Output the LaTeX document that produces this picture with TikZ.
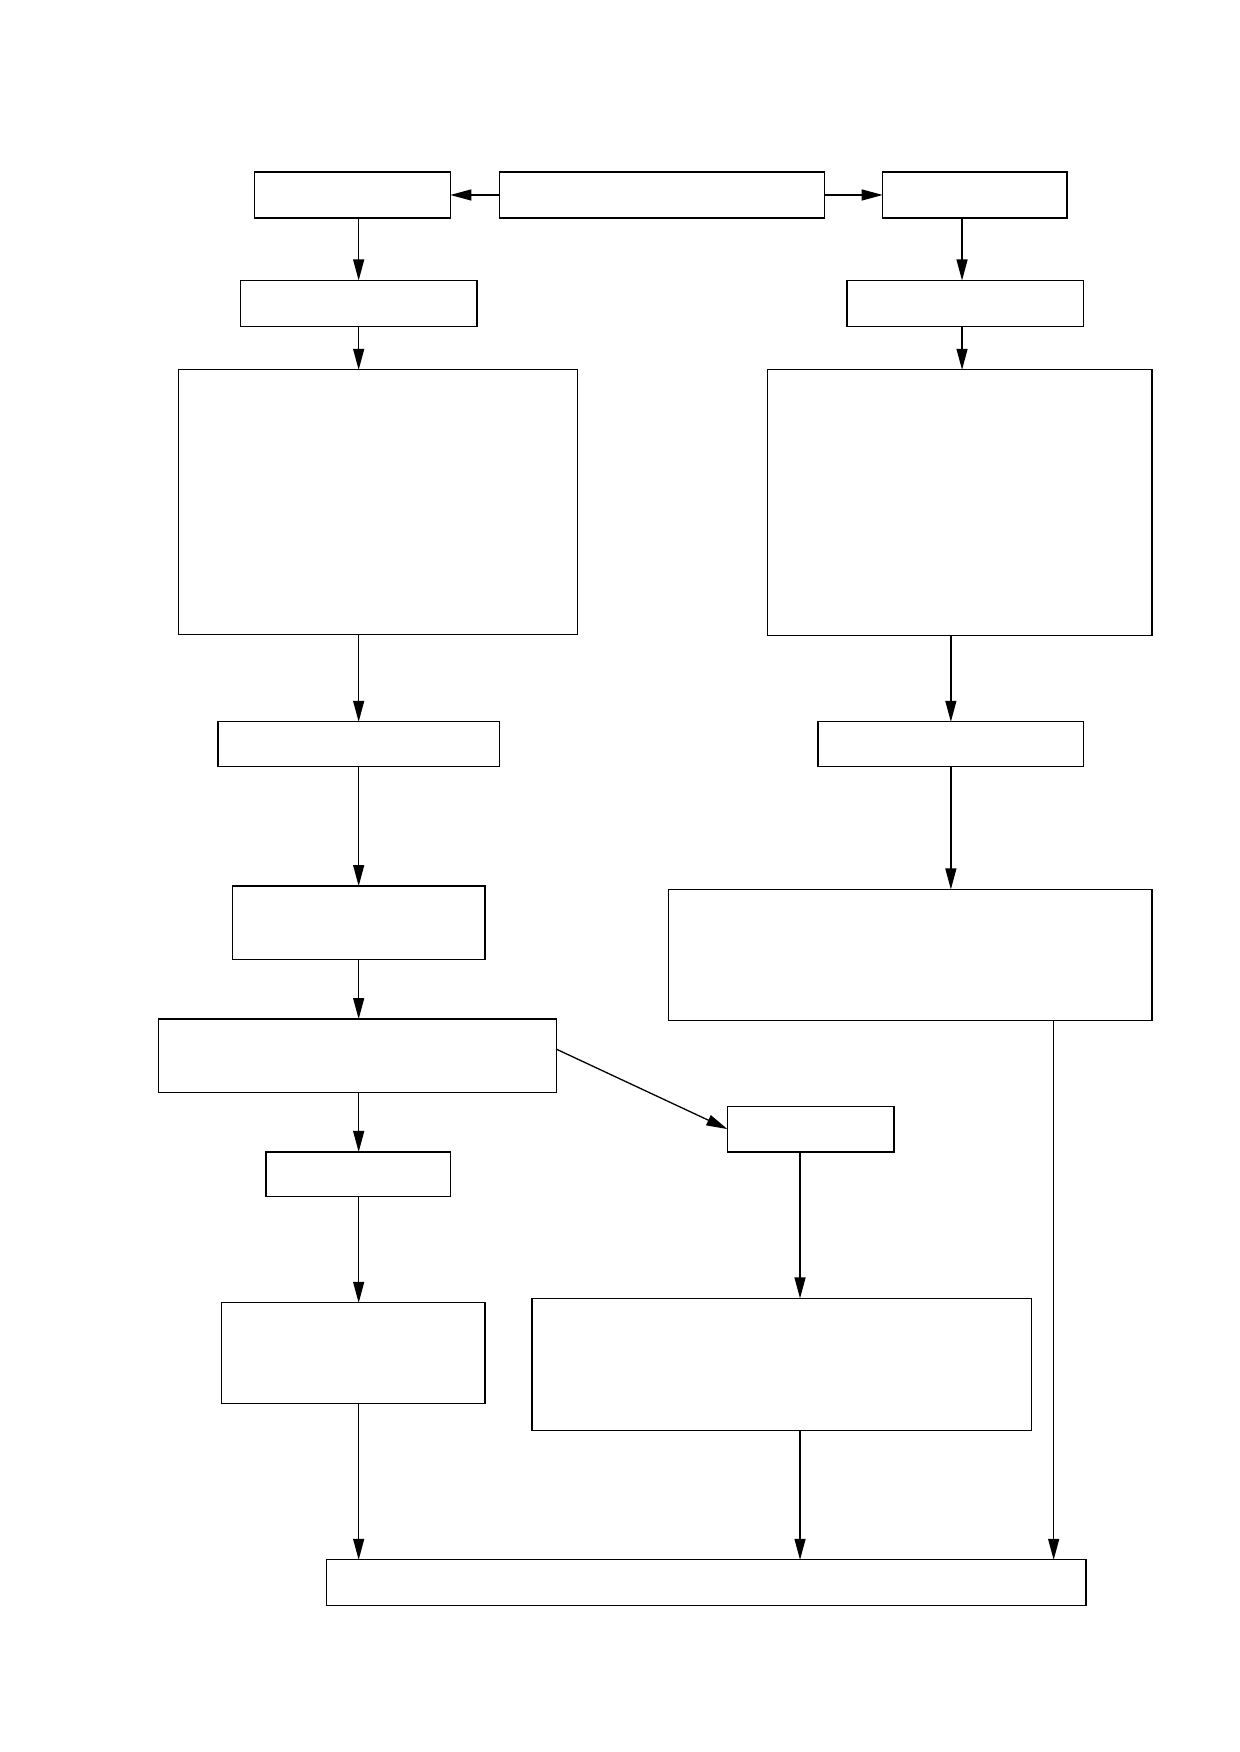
\documentclass[tikz,border=0pt]{standalone}
\usetikzlibrary{arrows.meta}
\begin{document}
\begin{tikzpicture}[x=1.1172pt,y=-1.1172pt,
  box/.style={draw, line width=1.3pt, inner sep=0pt, outer sep=0pt, rectangle},
  arr/.style={line width=1.3pt, -{Triangle[length=21pt,width=11pt]}}]
\useasboundingbox[fill=white] (0,0) rectangle (1109,1568);
\newcommand\mybox[5]{\node[box, minimum width={(#4-#2)*1.1172pt}, minimum height={(#5-#3)*1.1172pt}] (#1) at ({(#2+#4)/2},{(#3+#5)/2}) {};}
\mybox{A}{228}{154}{403}{195}
\mybox{B}{447}{154}{738}{195}
\mybox{C}{790}{154}{955}{195}
\mybox{D}{215}{251}{427}{292}
\mybox{E}{758}{251}{970}{292}
\mybox{F}{160}{331}{517}{568}
\mybox{G}{687}{331}{1031}{569}
\mybox{H}{195}{646}{447}{686}
\mybox{I}{732}{646}{970}{686}
\mybox{J}{208}{793}{434}{859}
\mybox{K}{598}{796}{1031}{913}
\mybox{L}{142}{912}{498}{978}
\mybox{M}{651}{990}{800}{1031}
\mybox{N}{238}{1031}{403}{1071}
\mybox{O}{198}{1166}{434}{1256}
\mybox{P}{476}{1162}{923}{1280}
\mybox{Q}{292}{1396}{972}{1437}
\coordinate (c321) at (321,0);
\coordinate (c861) at (861,0);
\coordinate (c851) at (851,0);
\coordinate (c716) at (716,0);
\coordinate (c943) at (943,0);
\draw[arr] (B.west) -- (A.east);
\draw[arr] (B.east) -- (C.west);
\draw[arr] (A.south -| c321) -- (D.north -| c321);
\draw[arr] (C.south -| c861) -- (E.north -| c861);
\draw[arr] (D.south -| c321) -- (F.north -| c321);
\draw[arr] (E.south -| c861) -- (G.north -| c861);
\draw[arr] (F.south -| c321) -- (H.north -| c321);
\draw[arr] (G.south -| c851) -- (I.north -| c851);
\draw[arr] (H.south -| c321) -- (J.north -| c321);
\draw[arr] (I.south -| c851) -- (K.north -| c851);
\draw[arr] (J.south -| c321) -- (L.north -| c321);
\draw[arr] (L.south -| c321) -- (N.north -| c321);
\draw[arr] ([yshift=6.7pt]L.east) -- (M.west);
\draw[arr] (N.south -| c321) -- (O.north -| c321);
\draw[arr] (M.south -| c716) -- (P.north -| c716);
\draw[arr] (O.south -| c321) -- (Q.north -| c321);
\draw[arr] (P.south -| c716) -- (Q.north -| c716);
\draw[arr] (K.south -| c943) -- (Q.north -| c943);
\end{tikzpicture}
\end{document}
